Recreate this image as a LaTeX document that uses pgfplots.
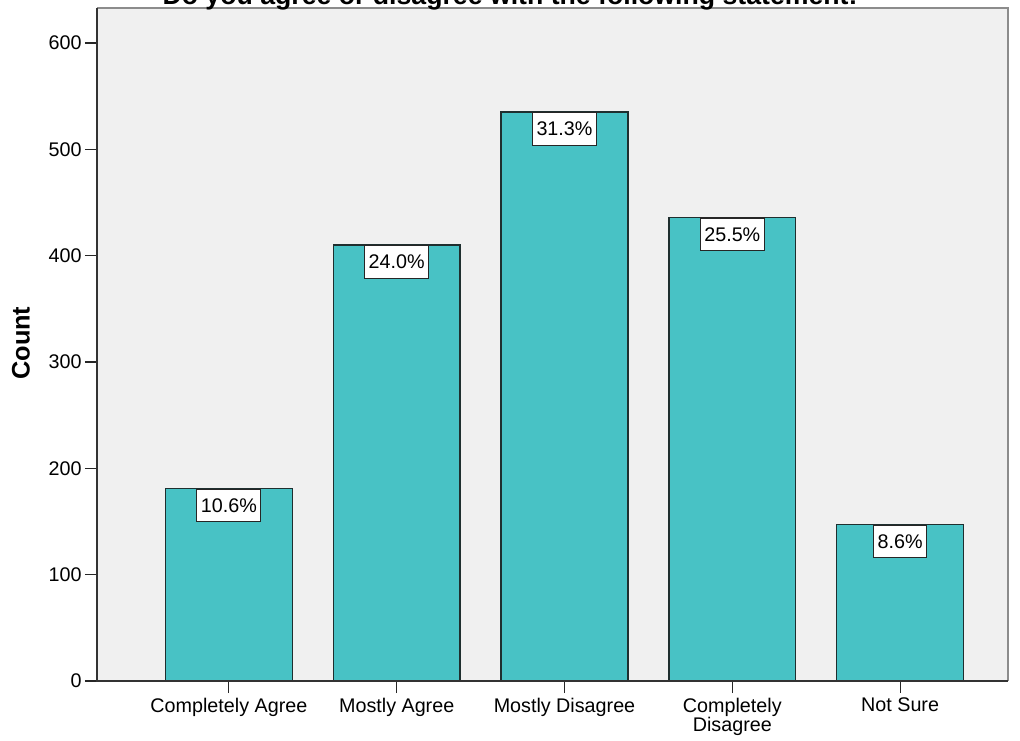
\documentclass[border=0pt]{standalone}
\usepackage{pgfplots}
\pgfplotsset{compat=1.18}
\usepackage{fontspec}
\setmainfont{Liberation Sans}
\definecolor{barfill}{HTML}{48C2C5}
\definecolor{bg}{HTML}{F0F0F0}
\definecolor{edge}{HTML}{1F2F2F}
\begin{document}
\begin{tikzpicture}
\begin{axis}[
  at={(0pt,0pt)}, anchor=south west,
  scale only axis, width=683.25pt, height=504.75pt,
  xmin=-0.786, xmax=4.643, ymin=0, ymax=633,
  axis background/.style={fill=bg},
  axis line style={draw=none},
  ybar, bar width=0.756,
  xtick={0,1,2,3,4},
  xticklabels={Completely Agree, Mostly Agree, Mostly Disagree, {Completely\\Disagree}, Not Sure},
  ytick={0,100,200,300,400,500,600},
  tick align=outside, major tick length=9pt,
  xtick pos=bottom, ytick pos=left,
  tick style={black!85, line width=0.9pt},
  ticklabel style={font=\fontsize{14.8}{14.5}\selectfont},
  x tick label style={align=center},
  y tick label style={xshift=1pt},
  /pgf/number format/assume math mode=true,
  ylabel={Count},
  every axis y label/.style={at={(axis description cs:-0.0834,0.502)}, rotate=90, anchor=center, font=\fontsize{19}{20}\selectfont\bfseries},
  point meta=explicit symbolic,
  nodes near coords={\pgfplotspointmeta\%},
  every node near coord/.append style={anchor=north, yshift=0pt, fill=white, draw=black!85, line width=0.8pt,
     font=\fontsize{14.8}{14.8}\selectfont, inner xsep=3pt, minimum height=24.5pt},
  clip=false,
]
\addplot[fill=barfill, draw=edge, line width=1.1pt] table[x=x, y=y, meta=pct] {
x y pct
0 181 10.6
1 410 24.0
2 535 31.3
3 436 25.5
4 147 8.6
};
\draw[gray!90, line width=2pt] (rel axis cs:0,1) -- (rel axis cs:1,1) -- (rel axis cs:1,0);
\draw[black!80, line width=1.5pt] (rel axis cs:0,1) -- (rel axis cs:0,0) -- (rel axis cs:1,0);
\end{axis}
\node[font=\fontsize{20}{24}\selectfont\bfseries, anchor=base] at (309.75pt,507.5pt) {Do you agree or disagree with the following statement:};
\pgfresetboundingbox
\useasboundingbox (-72.75pt,-44.25pt) rectangle (692.25pt,510.75pt);
\end{tikzpicture}
\end{document}
